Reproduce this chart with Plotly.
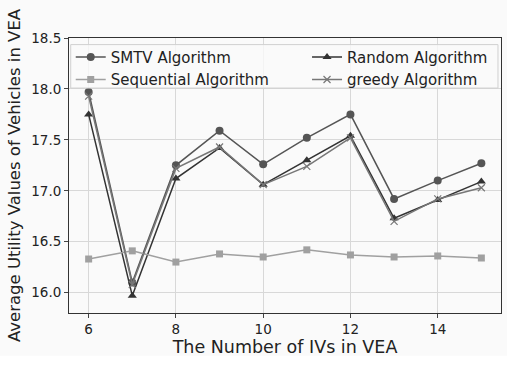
import plotly.graph_objects as go

x_vals = [6, 7, 8, 9, 10, 11, 12, 13, 14, 15]
smtv = [17.97, 16.10, 17.25, 17.59, 17.26, 17.52, 17.75, 16.92, 17.10, 17.27]
random_alg = [17.75, 15.97, 17.12, 17.42, 17.06, 17.30, 17.54, 16.73, 16.91, 17.09]
sequential = [16.33, 16.41, 16.30, 16.38, 16.35, 16.42, 16.37, 16.35, 16.36, 16.34]
greedy = [17.93, 16.08, 17.22, 17.43, 17.06, 17.24, 17.52, 16.70, 16.92, 17.03]
y_ticks = [16.0, 16.5, 17.0, 17.5, 18.0, 18.5]
x_ticks = [6, 8, 10, 12, 14]

font = "DejaVu Sans"
fig = go.Figure()
fig.add_trace(go.Scatter(x=x_vals, y=smtv, name="SMTV Algorithm", mode="lines+markers",
                         legend="legend",
                         line=dict(color="#555555", width=1.5),
                         marker=dict(symbol="circle", size=8, color="#555555")))
fig.add_trace(go.Scatter(x=x_vals, y=random_alg, name="Random Algorithm", mode="lines+markers",
                         legend="legend2",
                         line=dict(color="#333333", width=1.5),
                         marker=dict(symbol="triangle-up", size=8, color="#333333")))
fig.add_trace(go.Scatter(x=x_vals, y=sequential, name="Sequential Algorithm", mode="lines+markers",
                         legend="legend",
                         line=dict(color="#a0a0a0", width=1.5),
                         marker=dict(symbol="square", size=7, color="#a0a0a0")))
fig.add_trace(go.Scatter(x=x_vals, y=greedy, name="greedy Algorithm", mode="lines+markers",
                         legend="legend2",
                         line=dict(color="#777777", width=1.5),
                         marker=dict(symbol="x-thin", size=7, color="#777777",
                                     line=dict(color="#777777", width=1.2))))

leg_common = dict(yanchor="top", xanchor="left", bgcolor="rgba(0,0,0,0)", borderwidth=0,
                  font=dict(family=font, size=15), tracegroupgap=0, itemwidth=30,
                  orientation="v")

fig.update_layout(
    width=507, height=369,
    margin=dict(l=69, r=6, t=38, b=56),
    paper_bgcolor="#fafafa", plot_bgcolor="#fafafa",
    font=dict(family=font, size=13.5, color="#222222"),
    legend=dict(x=0.004, y=0.99, **leg_common),
    legend2=dict(x=0.551, y=0.99, **leg_common),
    showlegend=True,
    shapes=[
        dict(type="rect", xref="paper", yref="paper", x0=-0.2, x1=1.1,
             y0=-0.21, y1=-0.155, fillcolor="white", line=dict(width=0), layer="below"),
        dict(type="rect", xref="paper", yref="paper", x0=0.004, x1=0.993,
             y0=0.818, y1=0.976, fillcolor="rgba(250,250,250,0.8)",
             line=dict(color="#d0d0d0", width=1), layer="above"),
    ],
)
fig.update_xaxes(range=[5.55, 15.45], tickvals=x_ticks, ticks="outside", ticklen=4,
                 showgrid=True, gridcolor="#d8d8d8", gridwidth=1, automargin=False,
                 showline=True, linecolor="#333333", linewidth=1, mirror=True, zeroline=False,
                 tickfont=dict(size=13.5),
                 title=dict(text="The Number of IVs in VEA", font=dict(size=17.5), standoff=0))
fig.update_yaxes(range=[15.80, 18.5], tickvals=y_ticks, tickformat=".1f", ticks="outside", ticklen=4,
                 showgrid=True, gridcolor="#d8d8d8", gridwidth=1, automargin=False,
                 showline=True, linecolor="#333333", linewidth=1, mirror=True, zeroline=False,
                 tickfont=dict(size=13.5),
                 title=dict(text="Average Utility Values of Vehicles in VEA", font=dict(size=16.5), standoff=6))

fig.write_html("out.html", config={"displayModeBar": False},
               post_script="document.body.style.margin='0';")
